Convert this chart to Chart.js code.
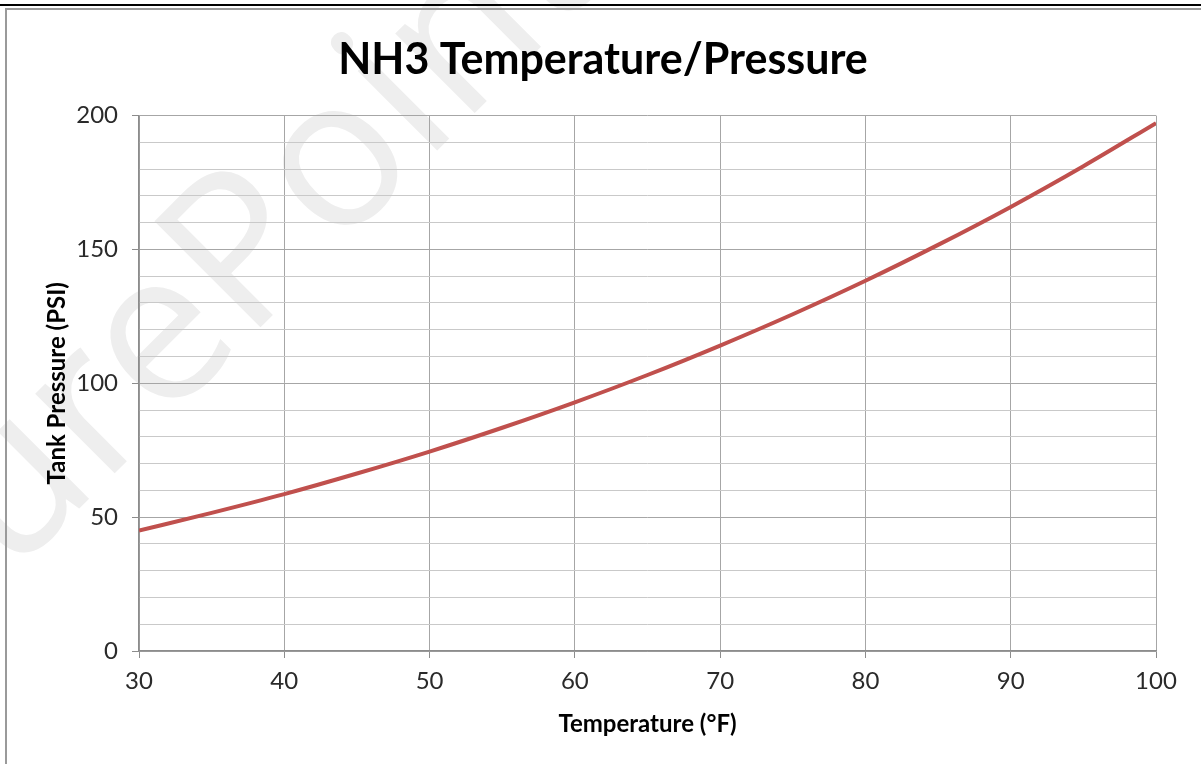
<!DOCTYPE html>
<html>
<head>
<meta charset="utf-8">
<script src="https://cdn.jsdelivr.net/npm/chart.js@4/dist/chart.umd.min.js"></script>
<style>
  html, body { margin: 0; padding: 0; background: #fff; }
  #wrap { position: relative; width: 1201px; height: 764px; overflow: hidden; }
  #mark {
    position: absolute; left: -229px; top: 500px;
    font: 210px "Open Sans", sans-serif; color: #eeeeee;
    transform: rotate(-45deg); transform-origin: left top; white-space: nowrap;
  }
  canvas { position: absolute; left: 0; top: 0; }
  #topline { position: absolute; left: 0; top: 4px; width: 1201px; height: 2px; background: #000; }
  #frame { position: absolute; left: 5px; top: 8px; width: 1200px; height: 760px;
           border-top: 2px solid #9a9a9a; border-left: 2px solid #9a9a9a; }
</style>
</head>
<body>
<div id="wrap">
  <div id="mark">SurePoint</div>
  <canvas id="chart" width="1201" height="764"></canvas>
  <div id="topline"></div>
  <div id="frame"></div>
</div>
<script>
// temperature (°F) and tank pressure (PSI)
const temps = [30, 35, 40, 45, 50, 55, 60, 65, 70, 75, 80, 85, 90, 95, 100];
const pressures = [45.0, 51.6, 58.6, 66.3, 74.5, 83.4, 92.9, 103.1, 114.1, 125.8, 138.3, 151.7, 165.9, 181.1, 197.2];
const xTicks = [30, 40, 50, 60, 70, 80, 90, 100];
const yLabels = [0, 50, 100, 150, 200];

const ctx = document.getElementById('chart').getContext('2d');
new Chart(ctx, {
  type: 'line',
  data: {
    datasets: [{
      data: temps.map((t, i) => ({ x: t, y: pressures[i] })),
      borderColor: '#c0504d',
      borderWidth: 4,
      pointRadius: 0,
      cubicInterpolationMode: 'monotone',
      fill: false
    }]
  },
  options: {
    responsive: false,
    animation: false,
    events: [],
    layout: { padding: { left: 50, right: 45, top: 0, bottom: 0 } },
    plugins: {
      legend: { display: false },
      tooltip: { enabled: false },
      title: {
        display: true,
        text: 'NH3 Temperature/Pressure',
        color: '#000',
        font: { family: 'Lato', size: 43, weight: 'bold', lineHeight: 1.2 },
        padding: { top: 34, bottom: 30 }
      }
    },
    scales: {
      x: {
        type: 'linear',
        min: 30,
        max: 100,
        afterBuildTicks: (s) => { s.ticks = xTicks.map(v => ({ value: v })); },
        afterFit: (s) => { s.height = 113; },
        border: { color: '#8c8c8c', width: 1.5 },
        grid: { color: '#a6a6a6', lineWidth: 1, tickLength: 7, tickColor: '#8c8c8c' },
        ticks: { color: '#2a2a2a', font: { family: 'Lato', size: 24 }, padding: 9, maxRotation: 0 },
        title: {
          display: true,
          text: 'Temperature (°F)',
          color: '#000',
          font: { family: 'Lato', size: 24, weight: 'bold', lineHeight: 1.2 },
          padding: { top: 0, bottom: 25 }
        }
      },
      y: {
        min: 0,
        max: 200,
        ticks: {
          stepSize: 10,
          autoSkip: false,
          color: '#2a2a2a',
          font: { family: 'Lato', size: 24 },
          padding: 14,
          callback: (v) => yLabels.includes(v) ? v : ''
        },
        afterFit: (s) => { s.width = 89; },
        border: { color: '#8c8c8c', width: 1.5 },
        grid: {
          tickLength: 7,
          color: (c) => c.tick && c.tick.value % 50 === 0 ? '#a6a6a6' : '#c9c9c9',
          tickColor: (c) => c.tick && c.tick.value % 50 === 0 ? '#8c8c8c' : 'rgba(0,0,0,0)'
        },
        title: {
          display: true,
          text: 'Tank Pressure (PSI)',
          color: '#000',
          font: { family: 'Lato', size: 24, weight: 'bold', lineHeight: 0.5 },
          padding: { top: 1, bottom: 0 }
        }
      }
    }
  }
});
</script>
</body>
</html>
